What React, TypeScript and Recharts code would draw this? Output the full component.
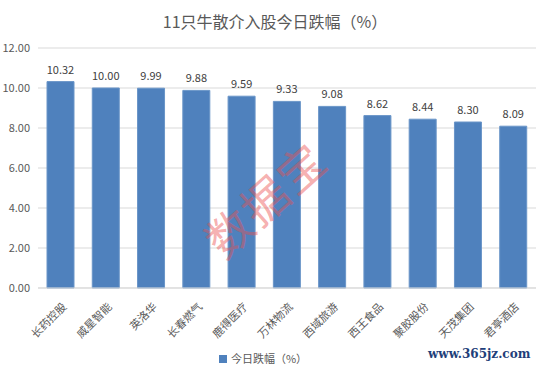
import { BarChart, Bar, XAxis, YAxis, CartesianGrid, Legend, LabelList } from 'recharts'

const stocks = ['长药控股', '威星智能', '英洛华', '长春燃气', '鹿得医疗', '万林物流', '西域旅游', '西王食品', '聚胶股份', '天茂集团', '君亭酒店']
const drops = [10.32, 10.0, 9.99, 9.88, 9.59, 9.33, 9.08, 8.62, 8.44, 8.3, 8.09]
const yTicks = [0, 2, 4, 6, 8, 10, 12]

const data = stocks.map((name, i) => ({ name, value: drops[i] }))

const FONT = '"Noto Sans CJK SC", "Noto Sans", sans-serif'

function AngledTick(props: any) {
  const { x, y, payload } = props
  return (
    <g transform={`translate(${x + 3},${y + 8})`}>
      <text
        transform="rotate(-45)"
        textAnchor="end"
        dominantBaseline="central"
        fontSize={11}
        fill="#595959"
        fontFamily={FONT}
      >
        {payload.value}
      </text>
    </g>
  )
}

export default function App() {
  return (
    <div style={{ position: 'absolute', left: 0, top: 0, width: 550, height: 378, background: '#fff', fontFamily: FONT, overflow: 'hidden' }}>
      <div style={{ position: 'absolute', top: 9, left: 0, width: 550, textAlign: 'center', fontSize: 16, color: '#595959' }}>
        11只牛散介入股今日跌幅（%）
      </div>
      <BarChart
        width={550}
        height={378}
        data={data}
        margin={{ top: 48, right: 14, left: 0, bottom: 10 }}
        barSize={27}
      >
        <CartesianGrid vertical={false} stroke="#d9d9d9" />
        <XAxis
          dataKey="name"
          interval={0}
          tickLine={false}
          axisLine={{ stroke: '#d9d9d9' }}
          height={56}
          tick={<AngledTick />}
        />
        <YAxis
          width={38}
          domain={[0, 12]}
          ticks={yTicks}
          axisLine={false}
          tickLine={false}
          tickFormatter={(v: number) => v.toFixed(2)}
          tick={{ fontSize: 11, fill: '#595959', fontFamily: FONT }}
        />
        <Legend
          verticalAlign="bottom"
          iconType="square"
          iconSize={8}
          formatter={() => <span style={{ color: '#595959', fontSize: 11 }}>今日跌幅（%）</span>}
        />
        <Bar dataKey="value" fill="#4F81BD" stroke="#6a95c8" strokeWidth={1} isAnimationActive={false}>
          <LabelList
            dataKey="value"
            position="top"
            offset={8}
            formatter={(v: any) => Number(v).toFixed(2)}
            style={{ fontSize: 11, fill: '#404040', fontFamily: FONT }}
          />
        </Bar>
      </BarChart>
      <div
        style={{
          position: 'absolute',
          left: 192,
          top: 165,
          fontSize: 46,
          color: 'rgba(235, 80, 80, 0.45)',
          transform: 'rotate(-42deg)',
          pointerEvents: 'none',
          letterSpacing: 2,
        }}
      >
        数据宝
      </div>
      <div
        style={{
          position: 'absolute',
          left: 428,
          top: 347,
          fontSize: 12,
          color: '#1f3f7a',
          fontFamily: '"DejaVu Serif", serif',
          fontWeight: 'bold',
          whiteSpace: 'nowrap',
        }}
      >
        www.365jz.com
      </div>
    </div>
  )
}
